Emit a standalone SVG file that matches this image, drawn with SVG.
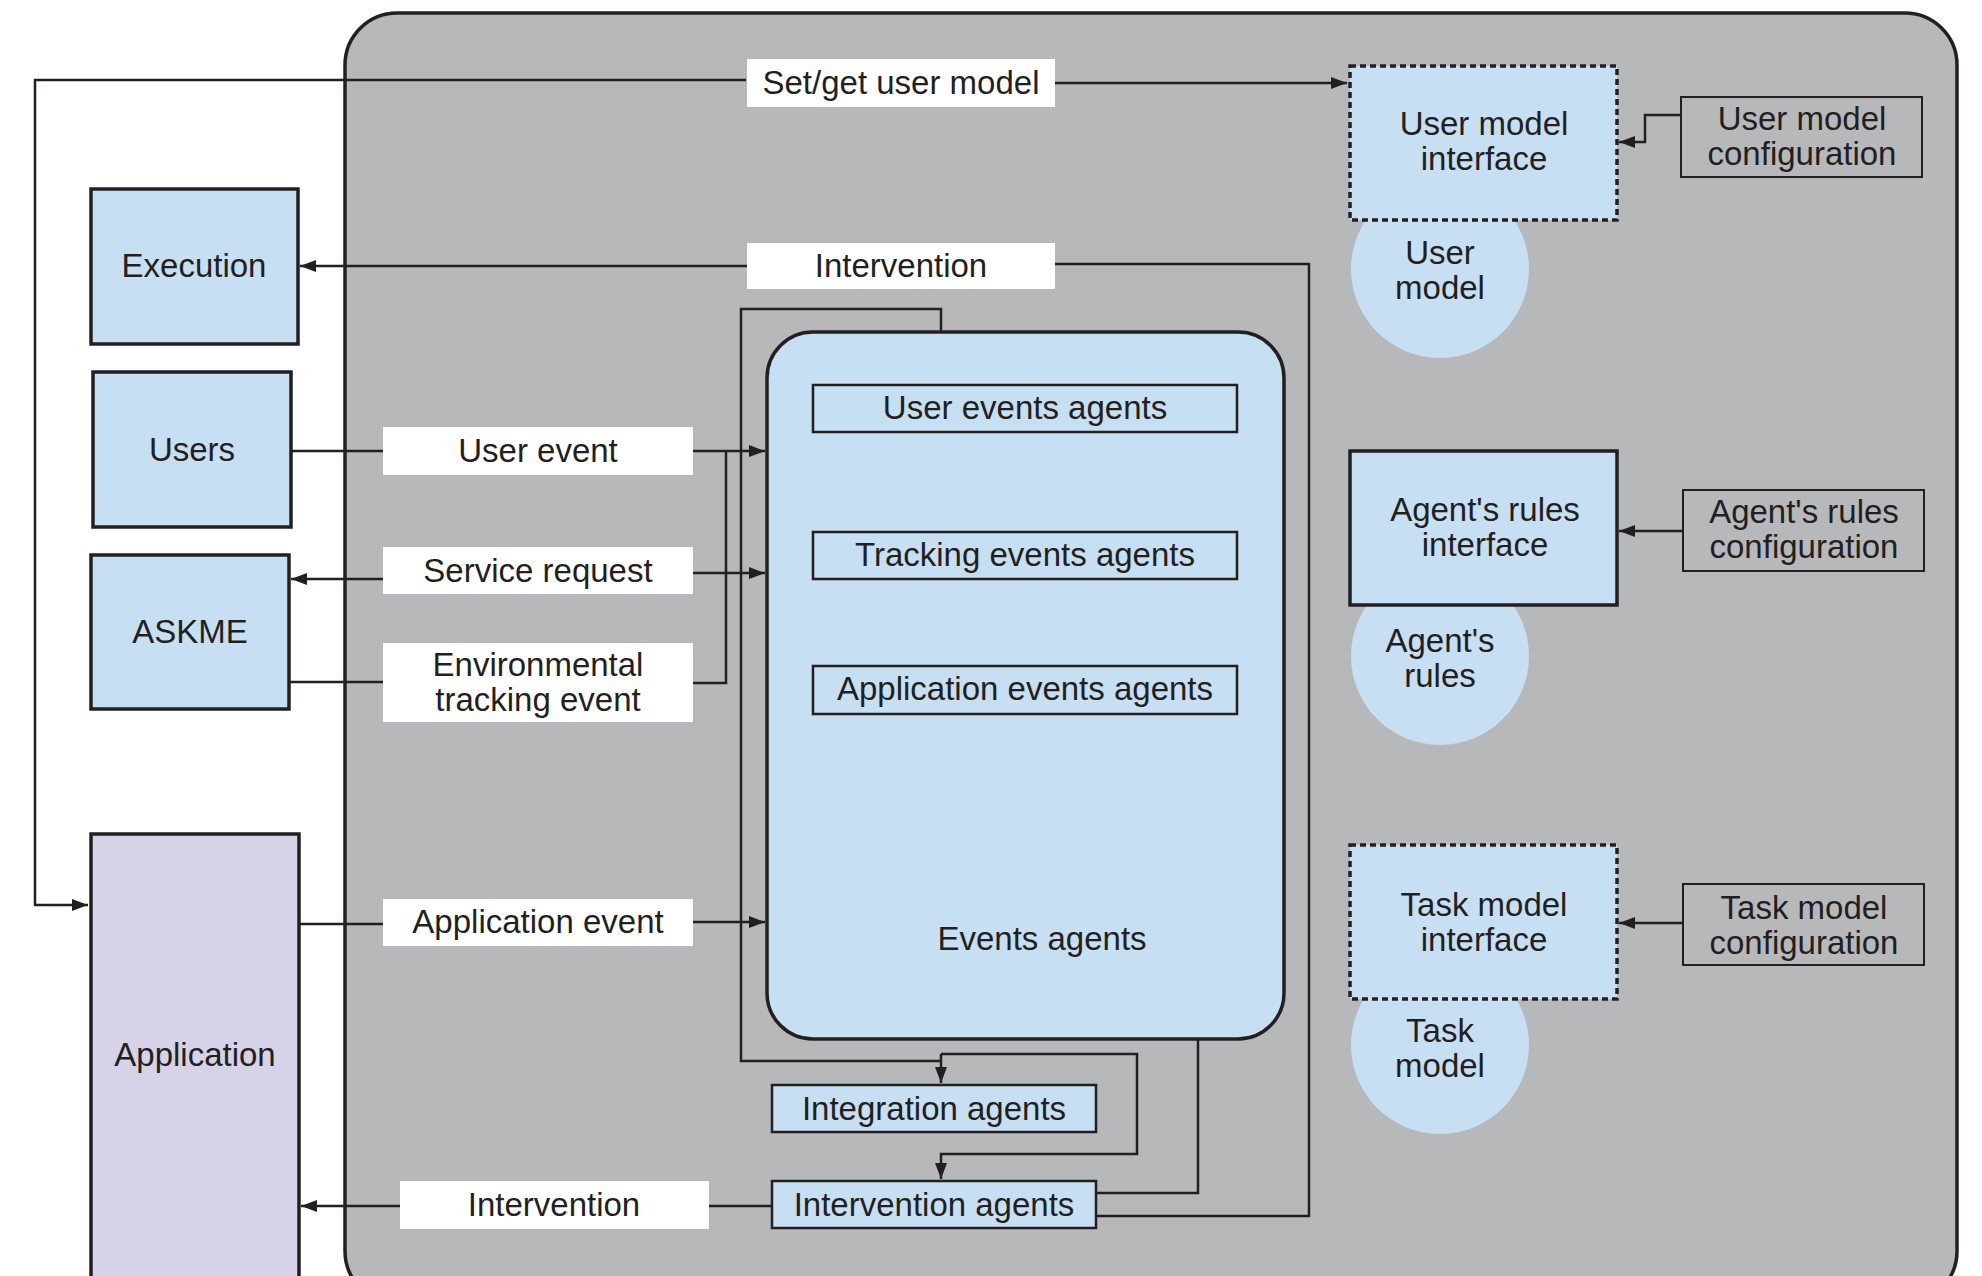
<svg xmlns="http://www.w3.org/2000/svg" width="1982" height="1276" viewBox="0 0 1982 1276">
<style>
text{font-family:"Liberation Sans",Arial,sans-serif;font-size:33px;fill:#231f20;text-anchor:middle}
.blue{fill:#c7dff2;stroke:#231f20;stroke-width:3.5}
.blueThin{fill:#c7dff2;stroke:#231f20;stroke-width:2.5}
.dash{fill:#c7dff2;stroke:#231f20;stroke-width:3.5;stroke-dasharray:6 4}
.cfg{fill:#b7b8ba;stroke:#231f20;stroke-width:2}
.lab{fill:#ffffff}
.circ{fill:#c7dff2}
.ln{fill:none;stroke:#231f20;stroke-width:2.5}
.arr{fill:none;stroke:#231f20;stroke-width:2.5;marker-end:url(#ah)}
</style>
<defs>
<marker id="ah" markerUnits="userSpaceOnUse" markerWidth="18" markerHeight="14" refX="16" refY="7" orient="auto">
<path d="M0,1 L16,7 L0,13 Z" fill="#231f20"/>
</marker>
</defs>
<rect x="0" y="0" width="1982" height="1276" fill="#ffffff"/>
<g id="system">
<rect x="345" y="13" width="1612" height="1290" rx="52" ry="52" fill="#b7b8ba" stroke="#231f20" stroke-width="3.5"/>
</g>
<g id="user-model"><circle class="circ" cx="1440" cy="269" r="89"/><text x="1440" y="264">User</text><text x="1440" y="299">model</text></g>
<g id="agents-rules"><circle class="circ" cx="1440" cy="656" r="89"/><text x="1440" y="652">Agent's</text><text x="1440" y="687">rules</text></g>
<g id="task-model"><circle class="circ" cx="1440" cy="1045" r="89"/><text x="1440" y="1042">Task</text><text x="1440" y="1077">model</text></g>
<g id="connectors">
<path class="ln" d="M746,80 H35 V905 H88" marker-end="url(#ah)"/>
<path class="arr" d="M1055,83 H1347"/>
<path class="arr" d="M1681,115 H1645 V142 H1619"/>
<path class="arr" d="M1683,531 H1619"/>
<path class="arr" d="M1683,923 H1619"/>
<path class="arr" d="M747,266 H300"/>
<path class="ln" d="M1055,264 H1309 V1216 H1096"/>
<path class="ln" d="M291,451 H383"/>
<path class="arr" d="M693,451 H765"/>
<path class="arr" d="M383,579 H291"/>
<path class="arr" d="M693,573 H765"/>
<path class="ln" d="M289,682 H383"/>
<path class="ln" d="M693,683 H726 V451"/>
<path class="ln" d="M299,924 H383"/>
<path class="arr" d="M693,922 H765"/>
<path class="ln" d="M941,332 V309 H741 V1061 H941"/>
<path class="arr" d="M941,1054 V1083"/>
<path class="arr" d="M941,1054 H1137 V1154 H941 V1179"/>
<path class="ln" d="M1096,1193 H1198 V1039"/>
<path class="arr" d="M400,1206 H301"/>
<path class="ln" d="M709,1206 H771"/>
</g>
<g id="execution"><rect class="blue" x="91" y="189" width="207" height="155"/><text x="194" y="277">Execution</text></g>
<g id="users"><rect class="blue" x="93" y="372" width="198" height="155"/><text x="192" y="461">Users</text></g>
<g id="askme"><rect class="blue" x="91" y="555" width="198" height="154"/><text x="190" y="643">ASKME</text></g>
<g id="application"><rect x="91" y="834" width="208" height="470" fill="#d6d2e7" stroke="#231f20" stroke-width="3.5"/><text x="195" y="1066">Application</text></g>
<g id="events-agents">
<rect class="blue" x="767" y="332" width="517" height="707" rx="46" ry="46"/>
<text x="1042" y="950">Events agents</text>
</g>
<g id="user-events-agents"><rect class="blueThin" x="813" y="385" width="424" height="47"/><text x="1025" y="419">User events agents</text></g>
<g id="tracking-events-agents"><rect class="blueThin" x="813" y="532" width="424" height="47"/><text x="1025" y="566">Tracking events agents</text></g>
<g id="application-events-agents"><rect class="blueThin" x="813" y="666" width="424" height="48"/><text x="1025" y="700">Application events agents</text></g>
<g id="integration-agents"><rect class="blueThin" x="772" y="1085" width="324" height="47"/><text x="934" y="1120">Integration agents</text></g>
<g id="intervention-agents"><rect class="blueThin" x="772" y="1181" width="324" height="47"/><text x="934" y="1216">Intervention agents</text></g>
<g id="user-model-interface"><rect class="dash" x="1350" y="66" width="267" height="154"/><text x="1484" y="135">User model</text><text x="1484" y="170">interface</text></g>
<g id="agents-rules-interface"><rect class="blue" x="1350" y="451" width="267" height="154"/><text x="1485" y="521">Agent's rules</text><text x="1485" y="556">interface</text></g>
<g id="task-model-interface"><rect class="dash" x="1350" y="845" width="267" height="154"/><text x="1484" y="916">Task model</text><text x="1484" y="951">interface</text></g>
<g id="user-model-configuration"><rect class="cfg" x="1681" y="97" width="241" height="80"/><text x="1802" y="130">User model</text><text x="1802" y="165">configuration</text></g>
<g id="agents-rules-configuration"><rect class="cfg" x="1683" y="490" width="241" height="81"/><text x="1804" y="523">Agent's rules</text><text x="1804" y="558">configuration</text></g>
<g id="task-model-configuration"><rect class="cfg" x="1683" y="884" width="241" height="81"/><text x="1804" y="919">Task model</text><text x="1804" y="954">configuration</text></g>
<g id="labels">
<rect class="lab" x="747" y="59" width="308" height="48"/><text x="901" y="94">Set/get user model</text>
<rect class="lab" x="747" y="243" width="308" height="46"/><text x="901" y="277">Intervention</text>
<rect class="lab" x="383" y="427" width="310" height="48"/><text x="538" y="462">User event</text>
<rect class="lab" x="383" y="547" width="310" height="47"/><text x="538" y="582">Service request</text>
<rect class="lab" x="383" y="643" width="310" height="79"/><text x="538" y="676">Environmental</text><text x="538" y="711">tracking event</text>
<rect class="lab" x="383" y="899" width="310" height="47"/><text x="538" y="933">Application event</text>
<rect class="lab" x="400" y="1181" width="309" height="48"/><text x="554" y="1216">Intervention</text>
</g>
</svg>
